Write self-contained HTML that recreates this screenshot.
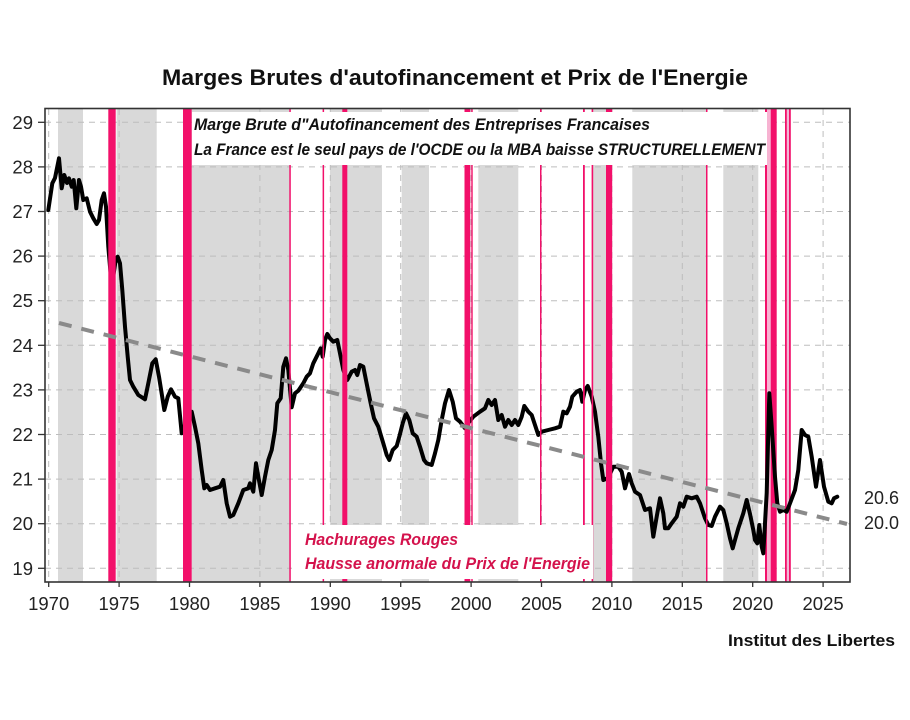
<!DOCTYPE html>
<html>
<head>
<meta charset="utf-8">
<style>
  html, body { margin: 0; padding: 0; background: #fff; }
  svg { display: block; }
  text { font-family: "Liberation Sans", sans-serif; }
</style>
</head>
<body>
<svg width="910" height="720" viewBox="0 0 910 720" xmlns="http://www.w3.org/2000/svg">
  <rect x="0" y="0" width="910" height="720" fill="#ffffff"/>

  <!-- Title -->
  <text x="162" y="85" font-size="22" font-weight="bold" fill="#111" textLength="586" lengthAdjust="spacingAndGlyphs">Marges Brutes d'autofinancement et Prix de l'Energie</text>

  <!-- Gray bands -->
  <g fill="#d9d9d9">
    <rect x="58" y="109" width="25" height="473"/>
    <rect x="116.6" y="109" width="40.1" height="473"/>
    <rect x="191.7" y="109" width="98.3" height="473"/>
    <rect x="330" y="109" width="52" height="473"/>
    <rect x="401.7" y="109" width="27.3" height="473"/>
    <rect x="478.3" y="109" width="40" height="473"/>
    <rect x="593" y="109" width="13.5" height="473"/>
    <rect x="632.3" y="109" width="74.4" height="473"/>
    <rect x="723.3" y="109" width="35" height="473"/>
  </g>

  <!-- Grid -->
  <g stroke="#bdbdbd" stroke-width="1" stroke-dasharray="6,5" fill="none">
    <line x1="45" y1="122.3" x2="850" y2="122.3"/>
    <line x1="45" y1="166.9" x2="850" y2="166.9"/>
    <line x1="45" y1="211.5" x2="850" y2="211.5"/>
    <line x1="45" y1="256.1" x2="850" y2="256.1"/>
    <line x1="45" y1="300.7" x2="850" y2="300.7"/>
    <line x1="45" y1="345.3" x2="850" y2="345.3"/>
    <line x1="45" y1="389.9" x2="850" y2="389.9"/>
    <line x1="45" y1="434.5" x2="850" y2="434.5"/>
    <line x1="45" y1="479.1" x2="850" y2="479.1"/>
    <line x1="45" y1="523.7" x2="850" y2="523.7"/>
    <line x1="45" y1="568.3" x2="850" y2="568.3"/>
    <line x1="48.7" y1="109" x2="48.7" y2="582"/>
    <line x1="119.1" y1="109" x2="119.1" y2="582"/>
    <line x1="189.5" y1="109" x2="189.5" y2="582"/>
    <line x1="259.9" y1="109" x2="259.9" y2="582"/>
    <line x1="330.3" y1="109" x2="330.3" y2="582"/>
    <line x1="400.7" y1="109" x2="400.7" y2="582"/>
    <line x1="471.1" y1="109" x2="471.1" y2="582"/>
    <line x1="541.5" y1="109" x2="541.5" y2="582"/>
    <line x1="611.9" y1="109" x2="611.9" y2="582"/>
    <line x1="682.3" y1="109" x2="682.3" y2="582"/>
    <line x1="752.7" y1="109" x2="752.7" y2="582"/>
    <line x1="823.1" y1="109" x2="823.1" y2="582"/>
  </g>

  <!-- 2021-2022 pink bars (under the data line) -->
  <rect x="767" y="109" width="3.7" height="473" fill="#f7b3d2"/>
  <rect x="786.7" y="109" width="2.3" height="473" fill="#f0b7d6"/>
  <g fill="#f2106a">
    <rect x="765" y="109" width="2" height="473"/>
    <rect x="770.7" y="109" width="6" height="473"/>
    <rect x="785" y="109" width="1.8" height="473"/>
    <rect x="789" y="109" width="1.8" height="473"/>
  </g>

  <!-- Data line -->
  <polyline fill="none" stroke="#000" stroke-width="4" stroke-linejoin="round" stroke-linecap="round" points="
48.3,210 52.3,183.3 55,178 59,158.3 61.7,188.3 64.3,175 67,183 69,178.3 71.7,186.7 73.7,180 76.3,208.3 79,180 81,186.7 83.3,200 86.7,198.3 90,211.7 93.3,218.3 96.7,224 99,220 101.7,200 104,193.3 106,206.7 108.3,246.7 111,278.3 112,285 116,258 117.7,256.7 120,263.3 122.3,290 125,326.7 127.7,356.7 130,380 133.3,386.7 138.3,395 145,399.3 148.3,383.3 152.3,363.3 155.7,359.3 159,376.7 164.3,410 167.7,396.7 171,389.3 175,396.7 178.3,398.3 181.7,433.3 184,428 189,412 191.7,411.7 195,426.7 198.3,443.3 201.7,470 204.3,488.3 206.7,485 210,490 215,488.3 220,486.7 223.3,480 226.7,503.3 230,516.7 233.3,515 238.3,503.3 243.3,490 248.3,488.3 250,483.3 253.3,491.7 256,463.3 258.3,476.7 261.7,495 265,476.7 268.3,460 271.7,450 275,430 277.3,403.3 280.7,398.3 283.3,366.7 286,358.3 288.3,370 291.7,407.3 295,393.3 298.3,390.7 303.3,383.3 306.7,376.7 310,373.3 313.3,363.3 318.3,353.3 320.7,348.3 322.7,356.7 325,340 327.3,334 330,338.3 333.3,341.7 337.3,340 340,353.3 343.3,370 347.3,380 351.7,371.7 355,370 357.3,375 360,365 363.3,366.7 367.3,386.7 370.7,403.3 374,418.3 378.3,426.7 383.3,443.3 386.7,455 389.3,460 392.7,450 396.7,446 399.3,436.7 402.7,423.3 406,413.3 409.3,420 412.7,433.3 416.7,436.7 420,446.7 424,460 426.7,463.3 431.7,465 435,453.3 438.3,440 441.7,420 445,403.3 449,390 452.7,401.7 456,418.3 460,421.7 465,428.3 469,422 473.3,416.7 480,411.7 485,408.3 488.3,400 491.7,405 495,400 498.3,420 501.7,415 505,426.7 508.3,420 511.7,425 515,420 518.3,425 521.7,416.7 524.3,406 528.3,411.7 531.7,415 535,425 538.3,435 541.7,431.7 548.3,430 555,428.3 560,426.7 563.3,411.7 566.7,413.3 570,406.7 572.3,396.7 576.7,391.7 580,390 582.3,401.7 585,390 587.7,386 591.7,396.7 595,411.7 598.3,436.7 601,463.3 603.3,480 608,478 613.3,466.7 618.3,466.7 621.7,471.7 625,488.3 629,474 631.7,483.3 635,491.7 640,495 645,510 650,508.3 653.3,536.7 656.7,516.7 660,498.3 663.3,513.3 665,528.3 668.3,528.3 671.7,523.3 676.7,516.7 680,503.3 683.3,506.7 686.7,496.7 691.7,498.3 696.7,496.7 700,503.3 705,518.3 708.3,525 711.7,526 715,516.7 720,506.7 723.3,510 726.7,523.3 730,538.3 732.7,548.3 735,540 738.3,528.3 743.3,513.3 746.7,500 750,514 753.3,530 755,540 757.3,543.3 759.3,525 761.7,546.7 763.3,553.3 766.7,493 769.3,393.3 771.7,426.7 775,476.7 777.3,503.3 780,511.7 783.3,510 786.7,511.7 790,503.3 795,490 798.3,470 801.7,430 805,435 808.3,436.7 811.7,456.7 816,486.7 820,460 824,486.7 828.3,501.7 831.7,503.3 834,498.3 837.3,496.7"/>

  <!-- Pink bars (on top of the data line) -->
  <g fill="#f2106a">
    <rect x="108.3" y="109" width="7.4" height="473"/>
    <rect x="183" y="109" width="8.7" height="473"/>
    <rect x="289.3" y="109" width="1.5" height="473"/>
    <rect x="322.6" y="109" width="1.5" height="473"/>
    <rect x="342.3" y="109" width="5" height="473"/>
    <rect x="464.5" y="109" width="5.8" height="473"/>
    <rect x="471.3" y="109" width="1.4" height="473"/>
    <rect x="540" y="109" width="1.5" height="473"/>
    <rect x="583" y="109" width="1.8" height="473"/>
    <rect x="591.6" y="109" width="1.6" height="473"/>
    <rect x="606" y="109" width="6.2" height="473"/>
    <rect x="706" y="109" width="1.5" height="473"/>
  </g>

  <!-- Trend line -->
  <line x1="59" y1="323" x2="847" y2="524" stroke="#8a8a8a" stroke-width="4" stroke-dasharray="13,10"/>

  <!-- Top annotation box -->
  <rect x="192" y="112" width="575" height="53" fill="#ffffff"/>
  <text x="194" y="130" font-size="16.5" font-style="italic" font-weight="bold" fill="#111" textLength="456" lengthAdjust="spacingAndGlyphs">Marge Brute d"Autofinancement des Entreprises Francaises</text>
  <text x="194" y="155" font-size="16.5" font-style="italic" font-weight="bold" fill="#111" textLength="571" lengthAdjust="spacingAndGlyphs">La France est le seul pays de l'OCDE ou la MBA baisse STRUCTURELLEMENT</text>

  <!-- Bottom annotation box -->
  <rect x="292" y="525" width="301" height="54" fill="#ffffff"/>
  <text x="305" y="545" font-size="16.5" font-style="italic" font-weight="bold" fill="#d4124c" textLength="153" lengthAdjust="spacingAndGlyphs">Hachurages Rouges</text>
  <text x="305" y="569" font-size="16.5" font-style="italic" font-weight="bold" fill="#d4124c" textLength="285" lengthAdjust="spacingAndGlyphs">Hausse anormale du Prix de l'Energie</text>

  <!-- Frame -->
  <rect x="45" y="108.5" width="805" height="473.5" fill="none" stroke="#333" stroke-width="1.6"/>

  <!-- Y ticks -->
  <g stroke="#333" stroke-width="1.3">
    <line x1="38" y1="122.3" x2="45" y2="122.3"/>
    <line x1="38" y1="166.9" x2="45" y2="166.9"/>
    <line x1="38" y1="211.5" x2="45" y2="211.5"/>
    <line x1="38" y1="256.1" x2="45" y2="256.1"/>
    <line x1="38" y1="300.7" x2="45" y2="300.7"/>
    <line x1="38" y1="345.3" x2="45" y2="345.3"/>
    <line x1="38" y1="389.9" x2="45" y2="389.9"/>
    <line x1="38" y1="434.5" x2="45" y2="434.5"/>
    <line x1="38" y1="479.1" x2="45" y2="479.1"/>
    <line x1="38" y1="523.7" x2="45" y2="523.7"/>
    <line x1="38" y1="568.3" x2="45" y2="568.3"/>
  </g>
  <g font-size="18.5" fill="#222" text-anchor="end">
    <text x="33" y="128.8">29</text>
    <text x="33" y="173.4">28</text>
    <text x="33" y="218">27</text>
    <text x="33" y="262.6">26</text>
    <text x="33" y="307.2">25</text>
    <text x="33" y="351.8">24</text>
    <text x="33" y="396.4">23</text>
    <text x="33" y="441">22</text>
    <text x="33" y="485.6">21</text>
    <text x="33" y="530.2">20</text>
    <text x="33" y="574.8">19</text>
  </g>

  <!-- X ticks -->
  <g stroke="#333" stroke-width="1.3">
    <line x1="48.7" y1="582" x2="48.7" y2="587"/>
    <line x1="119.1" y1="582" x2="119.1" y2="587"/>
    <line x1="189.5" y1="582" x2="189.5" y2="587"/>
    <line x1="259.9" y1="582" x2="259.9" y2="587"/>
    <line x1="330.3" y1="582" x2="330.3" y2="587"/>
    <line x1="400.7" y1="582" x2="400.7" y2="587"/>
    <line x1="471.1" y1="582" x2="471.1" y2="587"/>
    <line x1="541.5" y1="582" x2="541.5" y2="587"/>
    <line x1="611.9" y1="582" x2="611.9" y2="587"/>
    <line x1="682.3" y1="582" x2="682.3" y2="587"/>
    <line x1="752.7" y1="582" x2="752.7" y2="587"/>
    <line x1="823.1" y1="582" x2="823.1" y2="587"/>
  </g>
  <g font-size="18.5" fill="#222" text-anchor="middle">
    <text x="48.7" y="610">1970</text>
    <text x="119.1" y="610">1975</text>
    <text x="189.5" y="610">1980</text>
    <text x="259.9" y="610">1985</text>
    <text x="330.3" y="610">1990</text>
    <text x="400.7" y="610">1995</text>
    <text x="471.1" y="610">2000</text>
    <text x="541.5" y="610">2005</text>
    <text x="611.9" y="610">2010</text>
    <text x="682.3" y="610">2015</text>
    <text x="752.7" y="610">2020</text>
    <text x="823.1" y="610">2025</text>
  </g>

  <!-- Right labels -->
  <text x="864" y="504" font-size="18" fill="#222" textLength="35" lengthAdjust="spacingAndGlyphs">20.6</text>
  <text x="864" y="529" font-size="18" fill="#222" textLength="35" lengthAdjust="spacingAndGlyphs">20.0</text>

  <!-- Source -->
  <text x="728" y="646" font-size="17" font-weight="bold" fill="#111" textLength="167" lengthAdjust="spacingAndGlyphs">Institut des Libertes</text>
</svg>
</body>
</html>
